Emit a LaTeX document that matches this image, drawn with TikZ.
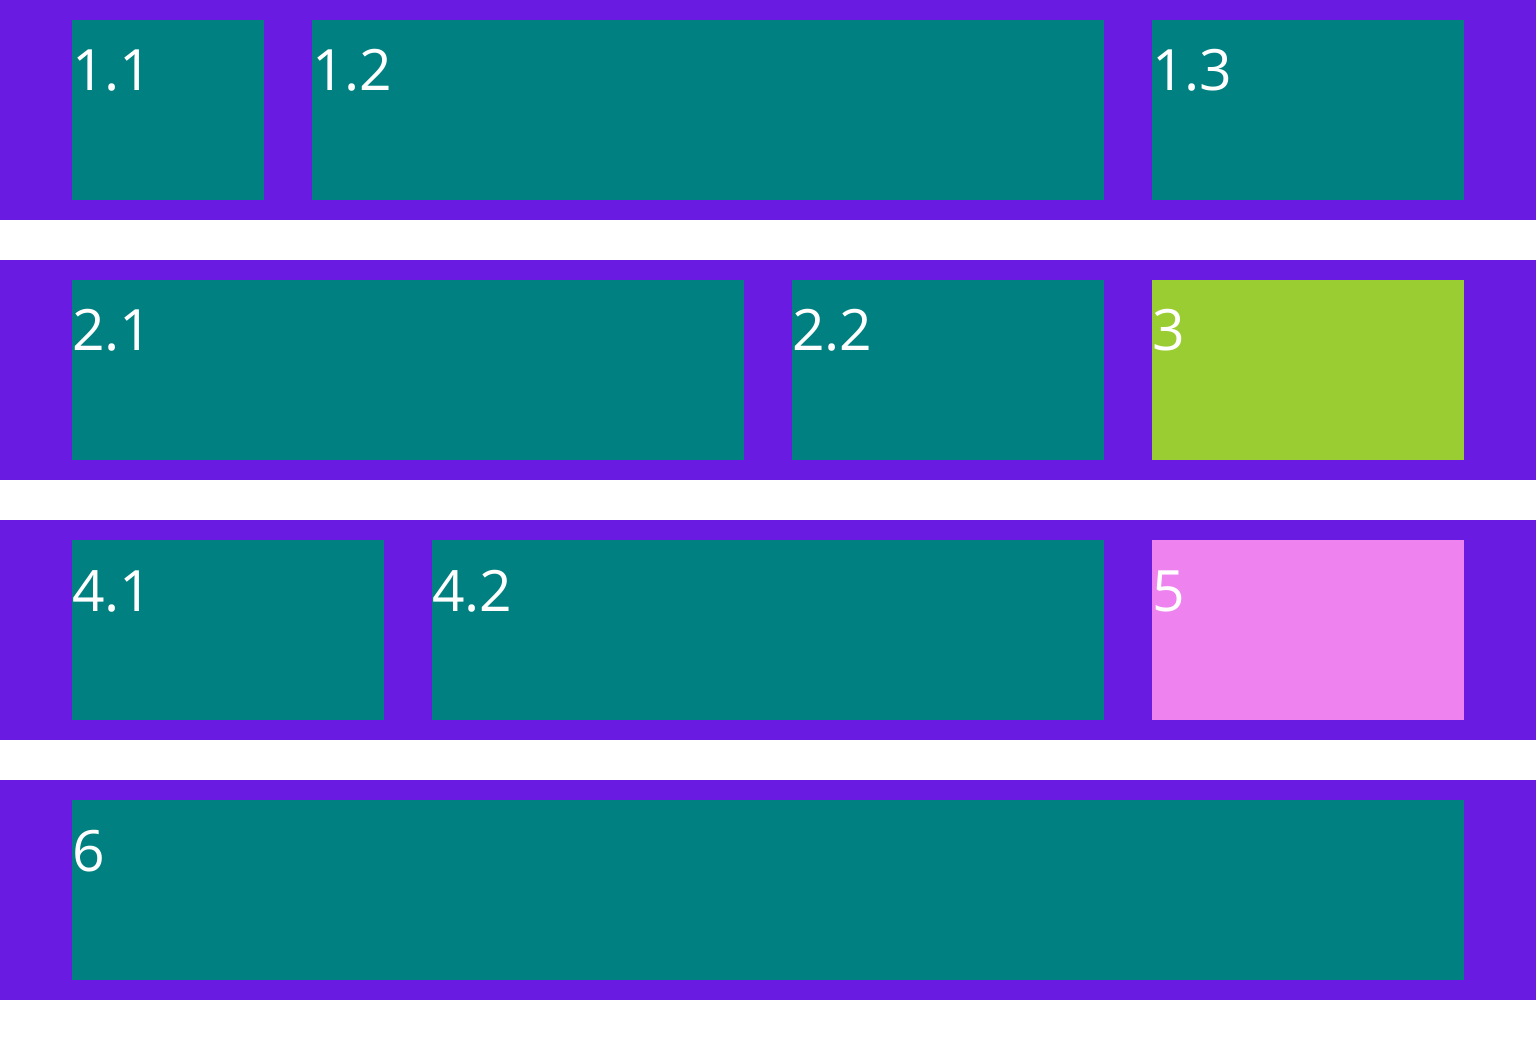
\documentclass[tikz,border=0pt]{standalone}
\usepackage{fontspec}
\setmainfont{Open Sans}
\definecolor{band}{HTML}{6A1BE2}
\definecolor{tealc}{HTML}{008080}
\definecolor{greenc}{HTML}{9ACD32}
\definecolor{violetc}{HTML}{EE82EE}
\begin{document}
\begin{tikzpicture}[x=1pt,y=-1pt,
  bandbox/.style={fill=band,draw=none},
  cell/.style={fill=tealc,draw=none},
  lbl/.style={anchor=base west,inner sep=0pt,text=white,font=\fontsize{57}{68}\selectfont}]
\useasboundingbox (0,0) rectangle (1536,1040);
\fill[white] (0,0) rectangle (1536,1040);
\foreach \y in {0,260,520,780} \fill[bandbox] (0,\y) rectangle (1536,\y+220);
% row 1
\fill[cell] (72,20) rectangle (264,200);
\fill[cell] (312,20) rectangle (1104,200);
\fill[cell] (1152,20) rectangle (1464,200);
% row 2
\fill[cell] (72,280) rectangle (744,460);
\fill[cell] (792,280) rectangle (1104,460);
\fill[greenc] (1152,280) rectangle (1464,460);
% row 3
\fill[cell] (72,540) rectangle (384,720);
\fill[cell] (432,540) rectangle (1104,720);
\fill[violetc] (1152,540) rectangle (1464,720);
% row 4
\fill[cell] (72,800) rectangle (1464,980);
% labels
\node[lbl] (l11) at (72,91) {1.1};
\node[lbl] (l12) at (312,91) {1.2};
\node[lbl] (l13) at (1152,91) {1.3};
\node[lbl] (l21) at (72,351) {2.1};
\node[lbl] (l22) at (792,351) {2.2};
\node[lbl] (l3) at (1152,351) {3};
\node[lbl] (l41) at (72,611) {4.1};
\node[lbl] (l42) at (432,611) {4.2};
\node[lbl] (l5) at (1152,611) {5};
\node[lbl] (l6) at (72,871) {6};
\end{tikzpicture}
\end{document}
